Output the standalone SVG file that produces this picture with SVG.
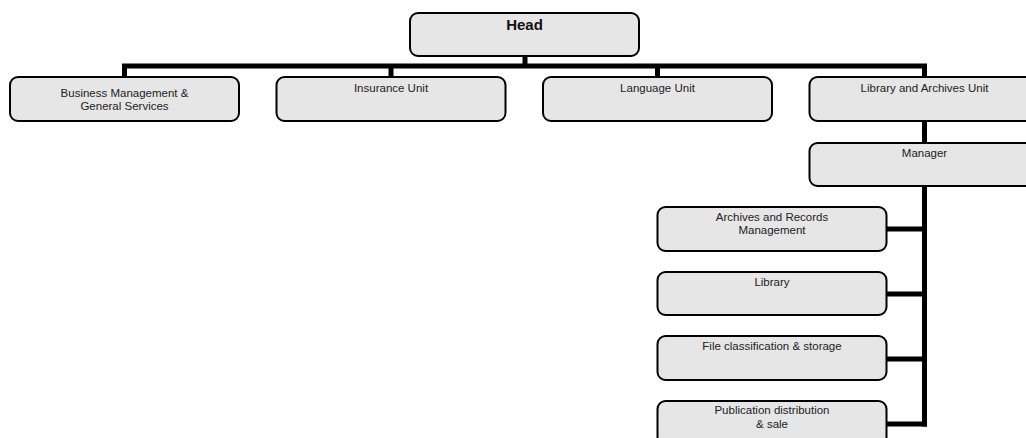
<svg xmlns="http://www.w3.org/2000/svg" width="1026" height="438" viewBox="0 0 1026 438">
<style>
.box{fill:#e6e6e6;stroke:#000;stroke-width:2}
.t{font-family:"Liberation Sans",Arial,sans-serif;font-size:11.5px;fill:#222;text-anchor:middle}
.h{font-family:"Liberation Sans",Arial,sans-serif;font-size:15px;font-weight:bold;fill:#111;text-anchor:middle}
.c{stroke:#000;stroke-width:5;fill:none}
</style>
<rect width="1026" height="438" fill="#fff"/>
<g id="connectors">
<line class="c" x1="525" y1="56" x2="525" y2="66"/>
<line class="c" x1="122" y1="66" x2="927" y2="66"/>
<line class="c" x1="124.5" y1="64" x2="124.5" y2="77"/>
<line class="c" x1="391" y1="64" x2="391" y2="77"/>
<line class="c" x1="657.5" y1="64" x2="657.5" y2="77"/>
<line class="c" x1="924.5" y1="64" x2="924.5" y2="77"/>
<line class="c" x1="924.5" y1="121" x2="924.5" y2="143"/>
<line class="c" x1="924.5" y1="186" x2="924.5" y2="426.5"/>
<line class="c" x1="887" y1="229" x2="927" y2="229"/>
<line class="c" x1="887" y1="294" x2="927" y2="294"/>
<line class="c" x1="887" y1="359" x2="927" y2="359"/>
<line class="c" x1="887" y1="424" x2="927" y2="424"/>
</g>
<g id="head"><rect class="box" x="410" y="13" width="229" height="43" rx="8"/><text class="h" x="524.5" y="30">Head</text></g>
<g id="business"><rect class="box" x="10" y="77" width="229" height="44" rx="8"/><text class="t" x="124.5" y="97">Business Management &amp;</text><text class="t" x="124.5" y="110">General Services</text></g>
<g id="insurance"><rect class="box" x="276.5" y="77" width="229" height="44" rx="8"/><text class="t" x="391" y="92">Insurance Unit</text></g>
<g id="language"><rect class="box" x="543" y="77" width="229" height="44" rx="8"/><text class="t" x="657.5" y="92">Language Unit</text></g>
<g id="library-archives"><rect class="box" x="809.5" y="77" width="229" height="44" rx="8"/><text class="t" x="924.5" y="92">Library and Archives Unit</text></g>
<g id="manager"><rect class="box" x="809.5" y="143" width="229" height="43" rx="8"/><text class="t" x="924.5" y="157">Manager</text></g>
<g id="archives-records"><rect class="box" x="657.5" y="207" width="229" height="44" rx="8"/><text class="t" x="772" y="221">Archives and Records</text><text class="t" x="772" y="234">Management</text></g>
<g id="library"><rect class="box" x="657.5" y="272" width="229" height="43" rx="8"/><text class="t" x="772" y="286">Library</text></g>
<g id="file-classification"><rect class="box" x="657.5" y="336" width="229" height="44" rx="8"/><text class="t" x="772" y="350">File classification &amp; storage</text></g>
<g id="publication"><rect class="box" x="657.5" y="401" width="229" height="44" rx="8"/><text class="t" x="772" y="414">Publication distribution</text><text class="t" x="772" y="428">&amp; sale</text></g>
</svg>
